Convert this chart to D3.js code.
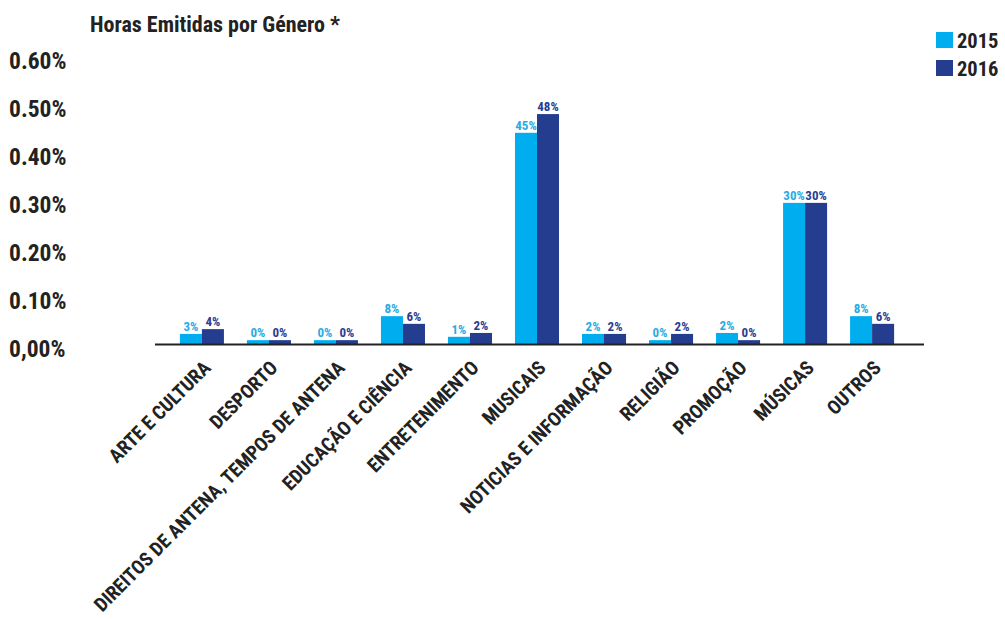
<!DOCTYPE html>
<html><head><meta charset="utf-8">
<script src="https://cdn.jsdelivr.net/npm/d3@7"></script>
<style>
body{margin:0;background:#fff;}
text{font-family:"Roboto Condensed","Liberation Sans Narrow","Arial Narrow","DejaVu Sans Condensed",sans-serif;font-weight:700;}
</style></head><body>
<svg id="chart" width="1005" height="619"></svg>
<script>
const categories = ["ARTE E CULTURA","DESPORTO","DIREITOS DE ANTENA, TEMPOS DE ANTENA","EDUCAÇÃO E CIÊNCIA","ENTRETENIMENTO","MUSICAIS","NOTICIAS E INFORMAÇÃO","RELIGIÃO","PROMOÇÃO","MÚSICAS","OUTROS"];
const series = ["2015","2016"];
const values2015 = [0.021,0.008,0.008,0.058,0.015,0.44,0.021,0.008,0.023,0.294,0.058];
const values2016 = [0.031,0.008,0.008,0.042,0.023,0.479,0.021,0.021,0.008,0.294,0.042];
const labels2015 = ["3%","0%","0%","8%","1%","45%","2%","0%","2%","30%","8%"];
const labels2016 = ["4%","0%","0%","6%","2%","48%","2%","2%","0%","30%","6%"];
const yTicks = [0,0.1,0.2,0.3,0.4,0.5,0.6];
const yTickLabels = ["0,00%","0.10%","0.20%","0.30%","0.40%","0.50%","0.60%"];
const colors = ["#00aeef","#253d8e"];
const labelColors = ["#29abe2","#2a3d8f"];

const svg = d3.select("#chart");
const y = d3.scaleLinear().domain([0,0.6]).range([344,56]);
const x0 = d3.scaleBand().domain(categories).range([168.5,905.5]).paddingInner(0.343).paddingOuter(0.17);
const x1 = d3.scaleBand().domain(series).range([0,x0.bandwidth()]);

// title
svg.append("text").attr("x",90).attr("y",32).attr("font-size",22).attr("fill","#222").text("Horas Emitidas por Género *");

// y tick labels
svg.append("g").selectAll("text").data(yTicks).join("text")
  .attr("x",9).attr("y",d=>y(d)+13).attr("font-size",23.5).attr("fill","#222")
  .text((d,i)=>yTickLabels[i]);

// bars
const data = categories.map((c,i)=>({c, vals:[values2015[i],values2016[i]], labs:[labels2015[i],labels2016[i]]}));
const g = svg.append("g").selectAll("g").data(data).join("g").attr("transform",d=>`translate(${x0(d.c)},0)`);
g.selectAll("rect").data(d=>d.vals.map((v,k)=>({v,k}))).join("rect")
  .attr("x",d=>x1(series[d.k])).attr("width",x1.bandwidth())
  .attr("y",d=>y(d.v)).attr("height",d=>y(0)-y(d.v)).attr("fill",d=>colors[d.k]);
g.selectAll("text.lab").data(d=>d.vals.map((v,k)=>({v,k,l:d.labs[k]}))).join("text")
  .attr("class","lab").attr("x",d=>x1(series[d.k])+x1.bandwidth()/2).attr("y",d=>y(d.v)-3)
  .attr("text-anchor","middle").attr("font-size",13).attr("fill",d=>labelColors[d.k]).text(d=>d.l);

// axis line
svg.append("line").attr("x1",155).attr("x2",924).attr("y1",y(0)+0.5).attr("y2",y(0)+0.5).attr("stroke","#222").attr("stroke-width",1.8);

// x labels
svg.append("g").selectAll("text").data(categories).join("text")
  .attr("text-anchor","end").attr("font-size",19.5).attr("fill","#222")
  .attr("transform",d=>`translate(${x0(d)+x0.bandwidth()/2+10},${y(0)+25}) rotate(-45)`)
  .text(d=>d);

// legend
const leg = svg.append("g").selectAll("g").data(series).join("g").attr("transform",(d,i)=>`translate(936,${32+i*28})`);
leg.append("rect").attr("width",17).attr("height",16).attr("fill",(d,i)=>colors[i]);
leg.append("text").attr("x",21).attr("y",15.5).attr("font-size",20.5).attr("fill","#222").text(d=>d);
</script></body></html>
